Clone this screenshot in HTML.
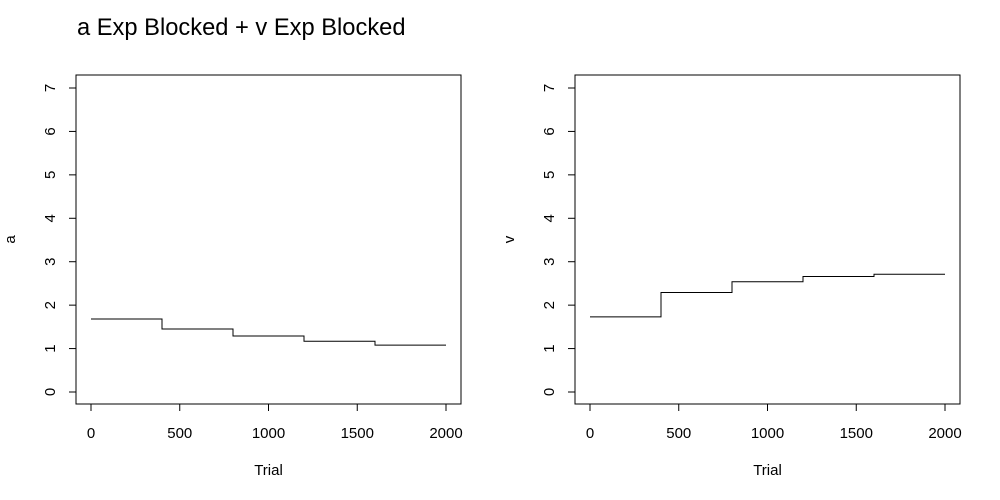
<!DOCTYPE html>
<html><head><meta charset="utf-8"><style>
body{margin:0;background:#fff;}
svg{display:block;font-family:"Liberation Sans",sans-serif;}
</style></head><body>
<svg id="c" width="1000" height="500">
<text x="77" y="35" font-size="23.7">a Exp Blocked + v Exp Blocked</text>
</svg>
<script>
const breaks=[0,400,800,1200,1600,2000];
const aVals=[1.68,1.45,1.29,1.17,1.08];
const vVals=[1.73,2.29,2.54,2.66,2.71];
const xTicks=[0,500,1000,1500,2000];
const yTicks=[0,1,2,3,4,5,6,7];
const svg=document.getElementById('c');
const NS='http://www.w3.org/2000/svg';
function mk(t,a){const e=document.createElementNS(NS,t);for(const k in a)e.setAttribute(k,a[k]);svg.appendChild(e);return e;}
function panel(left,vals,ylab,id){
  const x0=left+15,x1=left+370;
  const X=v=>x0+(v/2000)*(x1-x0);
  const Y=v=>392-v*(304/7);
  const box=mk('rect',{x:left,y:75,width:385,height:329,fill:'none',stroke:'#000','stroke-width':1});
  
  
  mk('line',{x1:X(0),x2:X(2000),y1:404,y2:404,stroke:'#000'});
  xTicks.forEach(t=>{
    mk('line',{x1:X(t),x2:X(t),y1:404,y2:411,stroke:'#000'});
    const tx=mk('text',{x:X(t),y:438,'font-size':15,'text-anchor':'middle'});tx.textContent=t;
    
    
  });
  yTicks.forEach(t=>{
    mk('line',{x1:left,x2:left-7,y1:Y(t),y2:Y(t),stroke:'#000'});
    const tx=mk('text',{x:0,y:0,'font-size':15,'text-anchor':'middle',transform:`translate(${left-21},${Y(t)}) rotate(-90)`});tx.textContent=t;
    
    
  });
  const xl=mk('text',{x:(left+left+385)/2,y:475,'font-size':15,'text-anchor':'middle'});xl.textContent='Trial';
  
  
  const yl=mk('text',{x:0,y:0,'font-size':15,'text-anchor':'middle',transform:`translate(${left-61},239.5) rotate(-90)`});yl.textContent=ylab;
  
  
  let d='';
  vals.forEach((v,i)=>{d+=(i?'L':'M')+X(breaks[i])+' '+Y(v)+'L'+X(breaks[i+1])+' '+Y(v);});
  const p=mk('path',{d:d,fill:'none',stroke:'#000','stroke-width':1});
  
  
}
panel(76,aVals,'a','a-panel');
panel(575,vVals,'v','v-panel');
</script>
</body></html>
